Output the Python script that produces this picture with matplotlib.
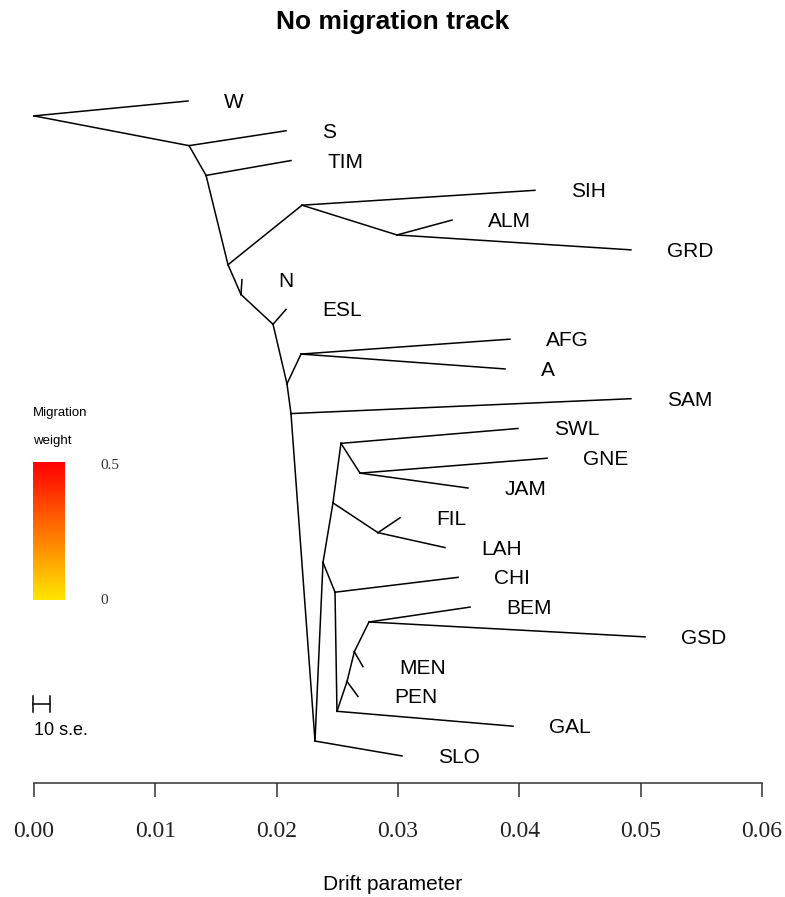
import matplotlib
matplotlib.use("Agg")
import matplotlib.pyplot as plt
import numpy as np
from matplotlib.colors import LinearSegmentedColormap

# tips, top to bottom (row = position in list)
leaf_names = ["W", "S", "TIM", "SIH", "ALM", "GRD", "N", "ESL", "AFG", "A",
              "SAM", "SWL", "GNE", "JAM", "FIL", "LAH", "CHI", "BEM", "GSD",
              "MEN", "PEN", "GAL", "SLO"]
leaf_drift = [0.01269, 0.02077, 0.02118, 0.04129, 0.03445, 0.04920, 0.01714,
              0.02077, 0.03923, 0.03882, 0.04920, 0.03989, 0.04228, 0.03577,
              0.03017, 0.03387, 0.03495, 0.03594, 0.05036, 0.02711, 0.02670,
              0.03948, 0.03033]
leaf_parent = ["R", "n1", "n2", "n4", "n5", "n5", "n6", "n7", "n9", "n9",
               "n10", "n14", "n15", "n15", "n16", "n16", "n17", "n21", "n21",
               "n20", "n19", "n18", "n11"]

# internal nodes
node_names = ["R", "n1", "n2", "n3", "n4", "n5", "n6", "n7", "n8", "n9", "n10",
              "n11", "n12", "n13", "n14", "n15", "n16", "n17", "n18", "n19",
              "n20", "n21"]
node_drift = [0.0, 0.01278, 0.01418, 0.01599, 0.02209, 0.02992, 0.01706,
              0.01970, 0.02085, 0.02201, 0.02118, 0.02316, 0.02382, 0.02464,
              0.02530, 0.02687, 0.02835, 0.02481, 0.02497, 0.02580, 0.02640,
              0.02761]
node_row = [0.5, 1.5, 2.5, 5.5, 3.5, 4.5, 6.5, 7.5, 9.5, 8.5, 10.5, 21.5,
            15.5, 13.5, 11.5, 12.5, 14.5, 16.5, 20.5, 19.5, 18.5, 17.5]
node_parent = [None, "R", "n1", "n2", "n3", "n4", "n3", "n6", "n7", "n8",
               "n8", "n10", "n11", "n12", "n13", "n14", "n13", "n12", "n17",
               "n18", "n19", "n20"]

se_bar = 0.0014
x_ticks = [0.00, 0.01, 0.02, 0.03, 0.04, 0.05, 0.06]

W, H = 785, 897
fig = plt.figure(figsize=(W / 100, H / 100), dpi=100)

# main tree axes: x axis line sits at pixel row 783
ax = fig.add_axes([0, (H - 783) / H, 1, 783 / H])
px_per_unit = 121.33 / 0.01
ax.set_xlim(-34 / px_per_unit, (W - 34) / px_per_unit)
row_px = 29.77
ax.set_ylim((783 - 101) / row_px, -101 / row_px)

pos = {n: (d, r) for n, d, r in zip(node_names, node_drift, node_row)}

for n, p in zip(node_names, node_parent):
    if p is None:
        continue
    ax.plot([pos[p][0], pos[n][0]], [pos[p][1], pos[n][1]], color="black", lw=1.1)

for i, (name, d, p) in enumerate(zip(leaf_names, leaf_drift, leaf_parent)):
    ax.plot([pos[p][0], d], [pos[p][1], i], color="black", lw=1.1)
    ax.text(d + 0.003, i + 0.05, name, ha="left", va="center", fontsize=15,
            family="Liberation Sans")

for s in ["top", "right", "left"]:
    ax.spines[s].set_visible(False)
ax.spines["bottom"].set_bounds(0, 0.06)
ax.spines["bottom"].set_linewidth(1.1)
ax.spines["bottom"].set_color("#333333")
ax.set_yticks([])
ax.set_xticks(x_ticks)
ax.set_xticklabels([f"{t:.2f}" for t in x_ticks], family="Liberation Serif",
                   fontsize=17, color="#222222")
ax.tick_params(axis="x", length=10, width=1.1, pad=17, color="#333333")
ax.set_xlabel("Drift parameter", family="Liberation Sans", fontsize=15,
              labelpad=24)

# scale bar
y_bar = (704 - 101) / row_px
ax.plot([-1 / px_per_unit, -1 / px_per_unit + se_bar], [y_bar, y_bar],
        color="black", lw=1.1)
for xb in [-1 / px_per_unit, -1 / px_per_unit + se_bar]:
    ax.plot([xb, xb], [y_bar - 0.27, y_bar + 0.27], color="black", lw=1.1)
ax.text(0, (730 - 101) / row_px, "10 s.e.", ha="left", va="center",
        fontsize=13, family="Liberation Sans")

fig.text(0.5, 1 - 22 / H, "No migration track", ha="center", va="center",
         fontsize=19, fontweight="bold", family="Liberation Sans")

# migration weight legend
fig.text(33 / W, 1 - 413 / H, "Migration", ha="left", va="center",
         fontsize=9.5, family="Liberation Sans")
fig.text(33 / W, 1 - 441 / H, "weight", ha="left", va="center",
         fontsize=9.5, family="Liberation Sans")
cax = fig.add_axes([33 / W, (H - 600) / H, 32 / W, 138 / H])
cmap = LinearSegmentedColormap.from_list("mig", ["#FFE600", "#FF0000"])
cax.imshow(np.linspace(0, 1, 200)[:, None], aspect="auto", origin="lower",
           cmap=cmap, extent=[0, 1, 0, 0.5])
cax.axis("off")
fig.text(100 / W, 1 - 465 / H, "0.5", ha="left", va="center", fontsize=11,
         family="Liberation Serif", color="#333333")
fig.text(100 / W, 1 - 600 / H, "0", ha="left", va="center", fontsize=11,
         family="Liberation Serif", color="#333333")

fig.savefig("out.png", dpi=100)
